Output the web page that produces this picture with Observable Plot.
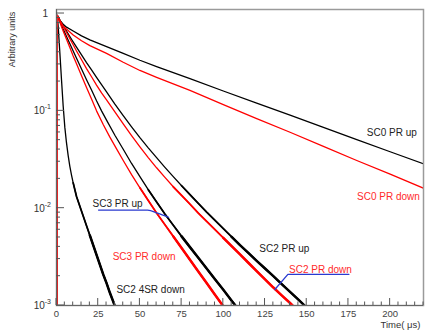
<!DOCTYPE html>
<html><head><meta charset="utf-8">
<script src="https://cdn.jsdelivr.net/npm/d3@7"></script>
<script src="https://cdn.jsdelivr.net/npm/@observablehq/plot@0.6"></script>
<style>
body{margin:0;background:#fff}
#chart svg{display:block;font-family:"Liberation Sans",Arial,sans-serif}
</style>
</head><body><div id="chart"></div>
<script>
// ---- data (time in µs, arbitrary units) ----
const sc0UpT   = [0.2, 0.5, 2, 4, 6, 10, 15, 20, 30, 40, 50, 60, 80, 100, 120, 140, 160, 180, 200, 221];
const sc0UpV   = [0.0005, 0.955, 0.851, 0.776, 0.724, 0.661, 0.589, 0.537, 0.457, 0.389, 0.331, 0.285, 0.214, 0.160, 0.120, 0.0902, 0.0676, 0.0507, 0.0380, 0.0282];
const sc0DownT = [0.2, 0.5, 2, 4, 6, 10, 15, 20, 30, 40, 50, 60, 80, 100, 120, 140, 160, 180, 200, 221];
const sc0DownV = [0.0005, 0.955, 0.832, 0.741, 0.692, 0.603, 0.525, 0.468, 0.389, 0.316, 0.260, 0.221, 0.162, 0.116, 0.0832, 0.0603, 0.0432, 0.0309, 0.0224, 0.0158];

const sc3UpT   = [0.2, 0.5, 2, 4, 6, 8, 10, 12, 15, 18, 21, 24, 27, 30, 35, 40, 45, 50, 55, 60, 65, 70, 75, 80, 85, 90, 95, 100, 105, 110];
const sc3UpV   = [0.0005, 0.955, 0.832, 0.692, 0.582, 0.490, 0.412, 0.347, 0.269, 0.209, 0.164, 0.127, 0.100, 0.0804, 0.0562, 0.0403, 0.0288, 0.0211, 0.0155, 0.0116, 0.00871, 0.00668, 0.00513, 0.00398, 0.00309, 0.00240, 0.00186, 0.00145, 0.00112, 0.00087];
const sc3DownT = [0.2, 0.5, 2, 4, 6, 8, 10, 12, 15, 18, 21, 24, 28, 32, 36, 40, 45, 50, 55, 60, 65, 70, 75, 80, 85, 90, 95, 100, 104];
const sc3DownV = [0.0005, 0.955, 0.813, 0.661, 0.543, 0.447, 0.367, 0.305, 0.229, 0.174, 0.132, 0.100, 0.0724, 0.0537, 0.0407, 0.0309, 0.0221, 0.0162, 0.0120, 0.00891, 0.00676, 0.00513, 0.00389, 0.00295, 0.00224, 0.00170, 0.00129, 0.00098, 0.00079];

const sc2UpT   = [0.2, 0.5, 3, 6, 9, 12, 15, 18, 21, 24, 27, 30, 35, 40, 45, 50, 55, 60, 65, 70, 75, 80, 85, 90, 95, 100, 105, 110, 115, 120, 125, 130, 135, 140, 145, 150];
const sc2UpV   = [0.0005, 0.955, 0.804, 0.661, 0.543, 0.452, 0.376, 0.313, 0.263, 0.221, 0.186, 0.157, 0.117, 0.0891, 0.0684, 0.0531, 0.0417, 0.0331, 0.0263, 0.0211, 0.0170, 0.0138, 0.0112, 0.00912, 0.00750, 0.00617, 0.00507, 0.00417, 0.00347, 0.00288, 0.00240, 0.00200, 0.00166, 0.00138, 0.00115, 0.00095];
const sc2DownT = [0.2, 0.5, 3, 6, 9, 12, 15, 18, 21, 24, 27, 30, 35, 40, 45, 50, 55, 60, 65, 70, 75, 80, 85, 90, 95, 100, 105, 110, 115, 120, 125, 130, 135, 140, 145];
const sc2DownV = [0.0005, 0.955, 0.794, 0.638, 0.513, 0.412, 0.335, 0.272, 0.224, 0.184, 0.153, 0.130, 0.0977, 0.0733, 0.0556, 0.0427, 0.0331, 0.0260, 0.0207, 0.0166, 0.0135, 0.0110, 0.00891, 0.00733, 0.00603, 0.00495, 0.00407, 0.00335, 0.00275, 0.00226, 0.00186, 0.00153, 0.00127, 0.00106, 0.00088];

const sc2_4srT = [0.2, 0.5, 1, 2, 3, 4, 5, 6, 7, 8, 9, 10, 12, 14.4, 16, 18, 20, 22, 24, 26, 28, 30, 32, 34, 35.5];
const sc2_4srV = [0.0005, 0.955, 0.741, 0.398, 0.209, 0.112, 0.0676, 0.0468, 0.0347, 0.0269, 0.0219, 0.0182, 0.0132, 0.0100, 0.00832, 0.00661, 0.00525, 0.00417, 0.00331, 0.00263, 0.00209, 0.00170, 0.00135, 0.00110, 0.00093];

// curve labels
const labelText  = ["SC0 PR up", "SC0 PR down", "SC3 PR up", "SC3 PR down", "SC2 4SR down", "SC2 PR up", "SC2 PR down"];
const labelT     = [201, 199, 36.6, 52.5, 56.4, 136.6, 158.2];
const labelV     = [0.0593, 0.0130, 0.0110, 0.0032, 0.00146, 0.00378, 0.00235];
const labelColor = ["#222", "#ff2a2a", "#222", "#ff2a2a", "#222", "#222", "#ff2a2a"];

// blue pointer lines
const pointer1T = [25.2, 54.6, 60.6, 67.2];
const pointer1V = [0.00955, 0.00955, 0.0089, 0.00807];
const pointer2T = [175.3, 138.7, 130.9];
const pointer2V = [0.00209, 0.00209, 0.00146];

// axes
const xMajorTicks = [0, 25, 50, 75, 100, 125, 150, 175, 200];
const yDecades = [1, 0.1, 0.01, 0.001];
const yDecadeExp = [0, -1, -2, -3];
const xTitle = "Time( μs)";
const yTitle = "Arbitrary units";

const rows = (T, V) => T.map((t, i) => ({t, v: V[i]}));

const W = 430, H = 334;
const ml = 56, mr = 7, mt = 9, mb = 29;

function axisDecor(index, {x, y}, values, dim) {
  const bottom = dim.height - dim.marginBottom;
  const left = dim.marginLeft;
  const g = d3.create("svg:g");
  const tk = g.append("g").attr("stroke", "#555").attr("stroke-width", 1);
  for (let t = 0; t <= 220; t += 5) {
    const L = xMajorTicks.includes(t) ? 7 : 3.5;
    const px = x(t);
    tk.append("line").attr("x1", px).attr("x2", px).attr("y1", bottom).attr("y2", bottom - L);
  }
  for (const d of yDecades) {
    tk.append("line").attr("x1", left).attr("x2", left + 8).attr("y1", y(d)).attr("y2", y(d));
    if (d < 1) for (let m = 2; m <= 9; m++) {
      const py = y(d * m);
      tk.append("line").attr("x1", left).attr("x2", left + 4).attr("y1", py).attr("y2", py);
    }
  }
  const lab = g.append("g").attr("fill", "#333").attr("font-size", 10).attr("text-anchor", "end");
  yDecades.forEach((d, i) => {
    const e = yDecadeExp[i];
    if (e === 0) {
      lab.append("text").attr("x", left - 8).attr("y", y(d) + 4).text("1");
    } else {
      const tx = lab.append("text").attr("x", left - 5).attr("y", y(d) + 4);
      tx.append("tspan").text("10");
      tx.append("tspan").attr("dy", -5).attr("font-size", 7).text(String(e));
    }
  });
  return g.node();
}

const blackSeries = [[sc0UpT, sc0UpV], [sc3UpT, sc3UpV], [sc2UpT, sc2UpV], [sc2_4srT, sc2_4srV]];
const redSeries = [[sc0DownT, sc0DownV], [sc3DownT, sc3DownV], [sc2DownT, sc2DownV]];
const tail = (T, V, lim) => rows(T, V).filter(d => d.v < lim && d.t > 1);
const tails = (list, color) => list.flatMap(([T, V]) => [
  Plot.line(tail(T, V, 0.02), {x: "t", y: "v", stroke: color, strokeWidth: 1.8, clip: true}),
  Plot.line(tail(T, V, 0.006), {x: "t", y: "v", stroke: color, strokeWidth: 2.5, clip: true})
]);

const chart = Plot.plot({
  width: W, height: H,
  marginLeft: ml, marginRight: mr, marginTop: mt, marginBottom: mb,
  style: {fontFamily: '"Liberation Sans", Arial, sans-serif', background: "#fff"},
  x: {domain: [0, 220], axis: null},
  y: {type: "log", domain: [0.001, 1.1], axis: null},
  marks: [
    ...blackSeries.map(([T, V]) => Plot.line(rows(T, V), {x: "t", y: "v", stroke: "#000", strokeWidth: 1.3, clip: true})),
    ...tails(blackSeries.slice(1), "#000"),
    ...redSeries.map(([T, V]) => Plot.line(rows(T, V), {x: "t", y: "v", stroke: "#ff0000", strokeWidth: 1.3, clip: true})),
    ...tails(redSeries.slice(1), "#ff0000"),
    Plot.frame({stroke: "#9a9a9a", strokeWidth: 1.5}),
    Plot.ruleY([0.001], {stroke: "#666", strokeWidth: 1}),
    Plot.ruleX([0], {stroke: "#666", strokeWidth: 1}),
    Plot.line(rows(pointer1T, pointer1V), {x: "t", y: "v", stroke: "#2a3ad0", strokeWidth: 1.3, curve: "monotone-x"}),
    Plot.line(rows(pointer2T, pointer2V), {x: "t", y: "v", stroke: "#2a3ad0", strokeWidth: 1.3}),
    Plot.text(labelText.map((s, i) => ({s, t: labelT[i], v: labelV[i], c: labelColor[i]})),
      {x: "t", y: "v", text: "s", fill: (d) => d.c, fontSize: 10}),
    Plot.axisX({ticks: xMajorTicks, tickSize: 0, tickPadding: 5, fontSize: 9.5, color: "#444", label: null}),
    axisDecor,
    Plot.text([xTitle], {frameAnchor: "bottom-right", dx: -3, dy: 22, textAnchor: "end", fontSize: 9.5, fill: "#333"}),
    Plot.text([yTitle], {frameAnchor: "top-left", dx: -44, dy: 30, rotate: -90, textAnchor: "middle", lineAnchor: "middle", fontSize: 9, fill: "#333"})
  ]
});
document.getElementById("chart").append(chart);
</script>
</body></html>
